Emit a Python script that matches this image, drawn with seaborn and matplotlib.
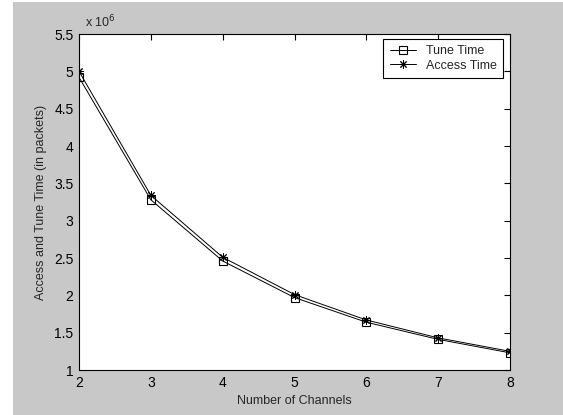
import matplotlib
matplotlib.use("Agg")
import matplotlib.pyplot as plt
import seaborn as sns
import pandas as pd
from matplotlib.patches import Rectangle
from matplotlib.ticker import FuncFormatter

channels = [2, 3, 4, 5, 6, 7, 8]
tune_time = [4.92e6, 3.28e6, 2.46e6, 1.97e6, 1.64e6, 1.41e6, 1.23e6]
access_time = [5.00e6, 3.34e6, 2.51e6, 2.01e6, 1.67e6, 1.43e6, 1.25e6]
x_ticks = [2, 3, 4, 5, 6, 7, 8]
y_ticks = [1.0e6, 1.5e6, 2.0e6, 2.5e6, 3.0e6, 3.5e6, 4.0e6, 4.5e6, 5.0e6, 5.5e6]

sns.set_style("white")
plt.rcParams['font.family'] = ['Liberation Sans', 'DejaVu Sans']

W, H = 563, 415
fig = plt.figure(figsize=(W / 100, H / 100), dpi=100, facecolor="white")
fig.patches.append(Rectangle((13 / W, 0), 1 - 13 / W, 1 - 2 / H, transform=fig.transFigure,
                             facecolor="#c8c8c8", edgecolor="none", zorder=-10))

ax = fig.add_axes([79 / W, 1 - 370 / H, (510 - 79) / W, (370 - 34) / H])
ax.set_facecolor("white")

df_t = pd.DataFrame({"x": channels, "y": tune_time})
df_a = pd.DataFrame({"x": channels, "y": access_time})
sns.lineplot(data=df_t, x="x", y="y", ax=ax, color="black", lw=0.7, marker="s",
             markersize=6, markerfacecolor="none", markeredgecolor="black",
             markeredgewidth=0.8, label="Tune Time")
sns.lineplot(data=df_a, x="x", y="y", ax=ax, color="black", lw=0.7, marker=(8, 2, 0),
             markersize=6, markerfacecolor="black", markeredgecolor="black",
             markeredgewidth=0.7, label="Access Time")

ax.set_xlim(2, 8)
ax.set_ylim(1.0e6, 5.5e6)
ax.set_xticks(x_ticks)
ax.set_yticks(y_ticks)
ax.yaxis.set_major_formatter(FuncFormatter(lambda v, p: f"{v/1e6:g}"))
ax.tick_params(direction="in", length=4, width=0.8, labelsize=10, top=True, right=True,
               colors="black", pad=4)
for s in ax.spines.values():
    s.set_visible(True)
    s.set_color("black")
    s.set_linewidth(0.8)

ax.set_xlabel("Number of Channels", fontsize=9, labelpad=4)
ax.set_ylabel("Access and Tune Time (in packets)", fontsize=9, labelpad=5)
ax.text(0.015, 1.012, r"x 10$^{6}$", transform=ax.transAxes, fontsize=9,
        ha="left", va="bottom")

leg = ax.legend(loc="upper right", fontsize=9, frameon=True, fancybox=False,
                edgecolor="black", framealpha=1, borderpad=0.5, labelspacing=0.2,
                handlelength=2.1, handletextpad=0.8, borderaxespad=0,
                bbox_to_anchor=((503 - 79) / 431, 1 - (39 - 34) / 336))
leg.get_frame().set_linewidth(0.8)

fig.savefig("out.png", dpi=100, facecolor=fig.get_facecolor())
